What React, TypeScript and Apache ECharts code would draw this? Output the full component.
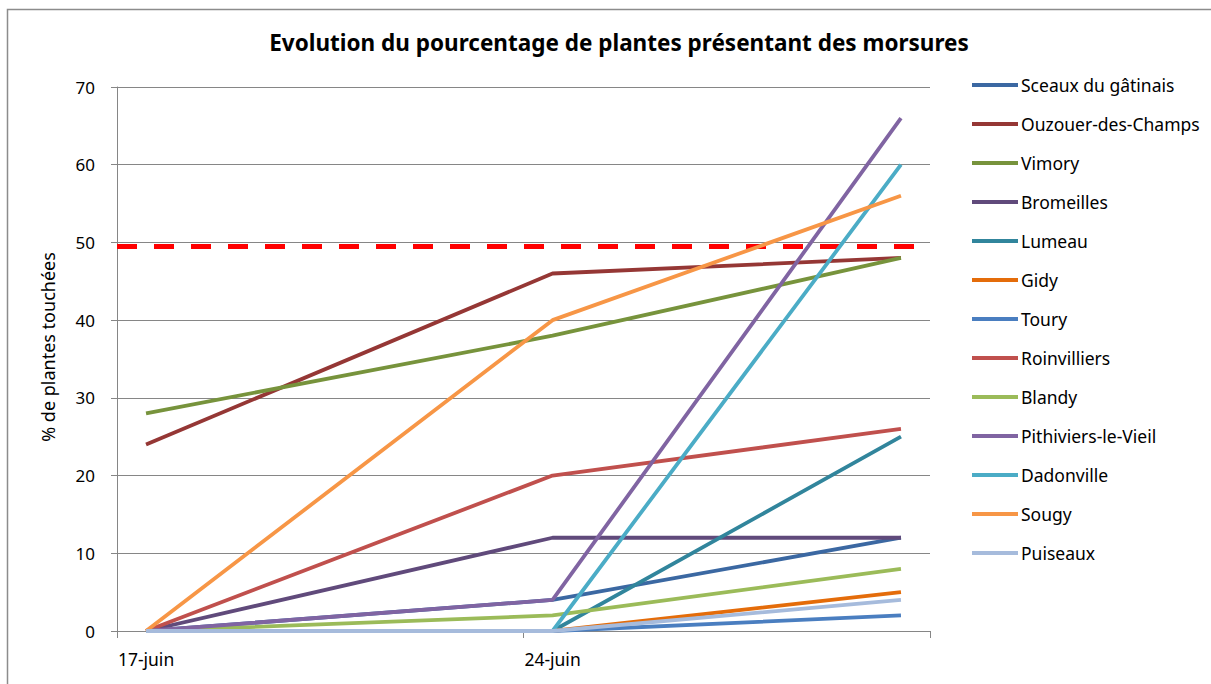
import React, { useEffect, useRef } from "react";
import * as echarts from "echarts";

// Days on the date axis (17 juin .. 30 juin); measures taken on 17, 24 and 30 juin
const days = [
  "17-juin", "18-juin", "19-juin", "20-juin", "21-juin", "22-juin", "23-juin",
  "24-juin", "25-juin", "26-juin", "27-juin", "28-juin", "29-juin", "30-juin",
];
const shownLabels = ["17-juin", "24-juin"];
const sampleDays = ["17-juin", "24-juin", "30-juin"];

const sceaux = [0, 4, 12];
const ouzouer = [24, 46, 48];
const vimory = [28, 38, 48];
const bromeilles = [0, 12, 12];
const lumeau = [0, 0, 25];
const gidy = [0, 0, 5];
const toury = [0, 0, 2];
const roinvilliers = [0, 20, 26];
const blandy = [0, 2, 8];
const pithiviers = [0, 4, 66];
const dadonville = [0, 0, 60];
const sougy = [0, 40, 56];
const puiseaux = [0, 0, 4];

const seriesNames = [
  "Sceaux du gâtinais", "Ouzouer-des-Champs", "Vimory", "Bromeilles", "Lumeau",
  "Gidy", "Toury", "Roinvilliers", "Blandy", "Pithiviers-le-Vieil", "Dadonville",
  "Sougy", "Puiseaux",
];
const seriesValues = [
  sceaux, ouzouer, vimory, bromeilles, lumeau, gidy, toury, roinvilliers,
  blandy, pithiviers, dadonville, sougy, puiseaux,
];
const seriesColors = [
  "#3B68A2", "#953735", "#77933C", "#604A7B", "#31859C", "#E46C0A", "#4A7EC0",
  "#C0504D", "#9BBB59", "#8064A2", "#4BACC6", "#F79646", "#A6BBDC",
];

const threshold = 49.5;
const yTicks = { min: 0, max: 70, interval: 10 };

const FONT = "'Noto Sans', sans-serif";

export default function App() {
  const ref = useRef<HTMLDivElement>(null);

  useEffect(() => {
    if (!ref.current) return;
    const chart = echarts.init(ref.current, null, { renderer: "svg" });

    const series: any[] = seriesNames.map((name, i) => ({
      name,
      type: "line",
      showSymbol: false,
      symbol: "none",
      data: sampleDays.map((d, k) => [days.indexOf(d), seriesValues[i][k]]),
      lineStyle: { color: seriesColors[i], width: 3.8 },
      itemStyle: { color: seriesColors[i] },
      z: 3,
    }));
    series[0].markLine = {
      silent: true,
      symbol: "none",
      label: { show: false },
      lineStyle: { color: "#FF0000", width: 5, type: [20, 17] },
      data: [{ yAxis: threshold }],
      z: 2,
    };

    chart.setOption({
      animation: false,
      backgroundColor: "#ffffff",
      title: {
        text: "Evolution du pourcentage de plantes présentant des morsures",
        left: 614,
        top: 26,
        textAlign: "center",
        textStyle: { fontFamily: FONT, fontWeight: "bold", fontSize: 22.5, color: "#000" },
      },
      legend: {
        orient: "vertical",
        left: 967,
        top: 71,
        icon: "rect",
        itemWidth: 46,
        itemHeight: 4,
        itemGap: 21,
        data: seriesNames,
        textStyle: { fontFamily: FONT, fontSize: 17.5, color: "#000", lineHeight: 18, padding: [0, 0, 0, -2] },
      },
      grid: { left: 117, top: 87, right: 281, bottom: 53, containLabel: false },
      xAxis: {
        type: "category",
        data: days,
        boundaryGap: true,
        axisLine: { lineStyle: { color: "#868686", width: 1 } },
        axisTick: {
          show: true,
          interval: (index: number) => index % 7 === 0,
          alignWithLabel: false,
          length: 7,
          lineStyle: { color: "#868686" },
        },
        axisLabel: {
          interval: 0,
          margin: 19,
          fontFamily: FONT,
          fontSize: 17.5,
          color: "#000",
          formatter: (v: string) => (shownLabels.includes(v) ? v : ""),
        },
        splitLine: { show: false },
      },
      yAxis: {
        type: "value",
        min: yTicks.min,
        max: yTicks.max,
        interval: yTicks.interval,
        axisLine: { show: true, lineStyle: { color: "#868686", width: 1 } },
        axisTick: { show: true, length: 6, lineStyle: { color: "#868686" } },
        axisLabel: { margin: 22, fontFamily: FONT, fontSize: 17, color: "#000" },
        splitLine: { show: true, lineStyle: { color: "#868686", width: 1 } },
      },
      graphic: [
        {
          type: "rect",
          shape: { x: 7.5, y: 9.5, width: 1300, height: 800 },
          style: { fill: "none", stroke: "#8C8C8C", lineWidth: 1.5 },
          silent: true,
          z: 0,
        },
        {
          type: "text",
          x: 48,
          y: 347,
          rotation: Math.PI / 2,
          style: {
            text: "% de plantes touchées",
            fontFamily: FONT,
            fontSize: 18,
            fill: "#000",
            align: "center",
            verticalAlign: "middle",
          },
          silent: true,
        },
        {
          type: "line",
          shape: { x1: 930.5, y1: 631, x2: 930.5, y2: 638 },
          style: { stroke: "#868686", lineWidth: 1 },
          silent: true,
        },
      ],
      series,
    });

    return () => chart.dispose();
  }, []);

  return (
    <div
      ref={ref}
      style={{ position: "fixed", left: 0, top: 0, width: 1211, height: 684, background: "#fff" }}
    />
  );
}
